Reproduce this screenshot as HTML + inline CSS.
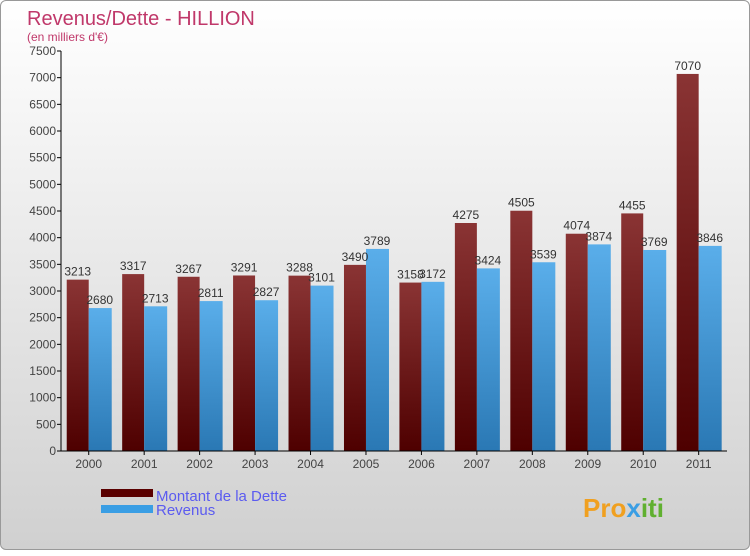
<!DOCTYPE html>
<html><head><meta charset="utf-8"><style>
body{margin:0;width:750px;height:550px;overflow:hidden;font-family:"Liberation Sans",sans-serif}
#wrap{position:absolute;left:0;top:0;width:748px;height:548px;border:1px solid #999;border-radius:6px;background:linear-gradient(#ffffff,#d0d0d0)}
</style></head><body>
<div id="wrap">
<svg id="chart" width="750" height="550">
<defs>
<linearGradient id="gd" x1="0" y1="0" x2="0" y2="1"><stop offset="0" stop-color="#8a3434"/><stop offset="1" stop-color="#4e0000"/></linearGradient>
<linearGradient id="gr" x1="0" y1="0" x2="0" y2="1"><stop offset="0" stop-color="#5aaeea"/><stop offset="1" stop-color="#2a78b4"/></linearGradient>
</defs>
<text x="26" y="24" font-size="20" fill="#c0386a">Revenus/Dette - HILLION</text>
<text x="26" y="40" font-size="12" fill="#c0386a">(en milliers d'€)</text>
<g id="plot"></g>
<rect x="100" y="488" width="52" height="8" fill="#5a0000"/>
<text x="155" y="500" font-size="15" fill="#5b5bf0">Montant de la Dette</text>
<rect x="100" y="504" width="52" height="8" fill="#3a9ee4"/>
<text x="155" y="514" font-size="15" fill="#5b5bf0">Revenus</text>
<text x="582" y="516" font-size="26" font-weight="bold" fill="#f0a020">Pro<tspan fill="#3a9ee4">x</tspan><tspan fill="#60b030">iti</tspan></text>
</svg></div>
<script>
const years=["2000","2001","2002","2003","2004","2005","2006","2007","2008","2009","2010","2011"];
const dette=[3213,3317,3267,3291,3288,3490,3158,4275,4505,4074,4455,7070];
const revenus=[2680,2713,2811,2827,3101,3789,3172,3424,3539,3874,3769,3846];
const ticks=[0,500,1000,1500,2000,2500,3000,3500,4000,4500,5000,5500,6000,6500,7000,7500];
const ns="http://www.w3.org/2000/svg",g=document.getElementById('plot');
const x0=60,step=55.45,yb=450,yt=50,maxV=7500;
const y=v=>yb-(v/maxV)*(yb-yt);
function mk(t,a){const e=document.createElementNS(ns,t);for(const k in a)e.setAttribute(k,a[k]);g.appendChild(e);return e;}
ticks.forEach(t=>{
 const l=mk('line',{x1:56,x2:60,y1:y(t),y2:y(t),stroke:'#000'});
 
 
 const tx=mk('text',{x:55,y:y(t)+4,'text-anchor':'end','font-size':12,fill:'#444'});tx.textContent=t;
 
 
});
years.forEach((yr,i)=>{
 const c=x0+step*(i+0.5);
 const b1=mk('rect',{x:c-22,y:y(dette[i]),width:22,height:yb-y(dette[i]),fill:'url(#gd)'});
 
 
 const b2=mk('rect',{x:c,y:y(revenus[i]),width:23,height:yb-y(revenus[i]),fill:'url(#gr)'});
 
 
 const t1=mk('text',{x:c-11,y:y(dette[i])-4,'text-anchor':'middle','font-size':12,fill:'#333'});t1.textContent=dette[i];
 
 
 const t2=mk('text',{x:c+11,y:y(revenus[i])-4,'text-anchor':'middle','font-size':12,fill:'#333'});t2.textContent=revenus[i];
 
 
 const tk=mk('line',{x1:c,x2:c,y1:450,y2:454,stroke:'#000'});
 
 
 const xl=mk('text',{x:c,y:467,'text-anchor':'middle','font-size':12,fill:'#444'});xl.textContent=yr;
 
 
});
const ya=mk('line',{x1:60,x2:60,y1:50,y2:450,stroke:'#000'});


const xa=mk('line',{x1:60,x2:726,y1:450,y2:450,stroke:'#000'});


</script>
</body></html>
